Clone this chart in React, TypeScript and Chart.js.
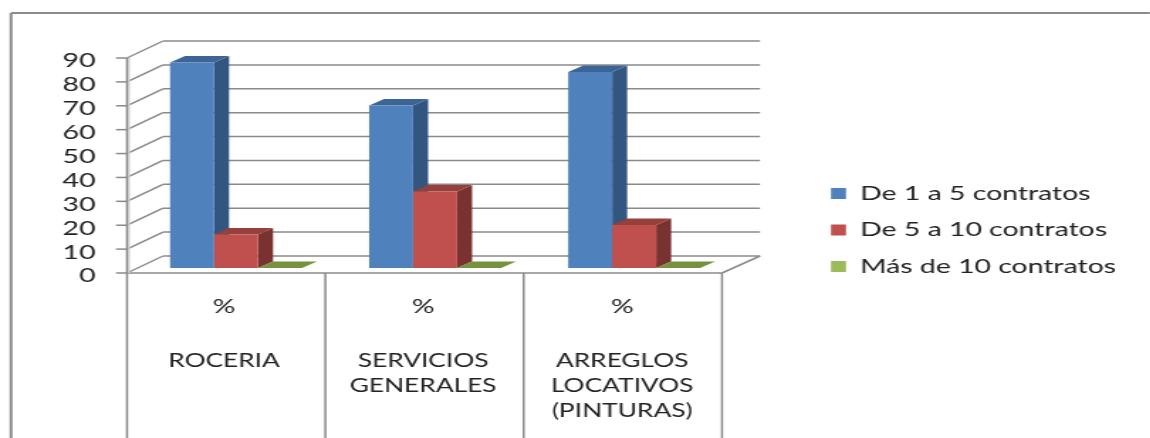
import { useEffect, useRef } from "react";
import { Chart, registerables } from "chart.js";

Chart.register(...registerables);

const categories = ["ROCERIA", "SERVICIOS GENERALES", "ARREGLOS LOCATIVOS (PINTURAS)"];
const unitLabels = ["%", "%", "%"];
const groupLines = [["ROCERIA"], ["SERVICIOS", "GENERALES"], ["ARREGLOS", "LOCATIVOS", "(PINTURAS)"]];
const seriesNames = ["De 1 a 5 contratos", "De 5 a 10 contratos", "Más de 10 contratos"];
const upTo5 = [86, 68, 82];
const upTo10 = [14, 32, 18];
const over10 = [0, 0, 0];
const faceColors = ["#4f81bd", "#c0504d", "#9bbb59"];
const topColors = ["#3d6496", "#95403d", "#76923c"];
const sideColors = ["#335680", "#7a3230", "#627a32"];

// The drawing is laid out on a narrower canvas and widened with CSS.
const WIDEN = 1.42;
const W = 1150;
const H = 438;
const sx = (px: number) => px / WIDEN;
const GRID = "#8a8a8a";
const LEGEND_GAP = 16.5;

const box3d = {
  id: "box3d",
  beforeDatasetsDraw(chart: any) {
    const { ctx } = chart;
    const yS = chart.scales.y;
    const line = (x1: number, y1: number, x2: number, y2: number, c = GRID, w = 1.5) => {
      ctx.strokeStyle = c;
      ctx.lineWidth = w;
      ctx.beginPath();
      ctx.moveTo(x1, y1);
      ctx.lineTo(x2, y2);
      ctx.stroke();
    };
    ctx.save();
    // outer frame, open on the right and at the bottom
    line(sx(W), 13, sx(11), 13, GRID, 2);
    line(sx(11), 13, sx(11), H, GRID, 2);

    const frontL = sx(127);
    const backL = sx(163);
    const frontR = sx(722);
    const backR = sx(760);
    const front = (v: number) => yS.getPixelForValue(v) + 5;
    const back = (v: number) => yS.getPixelForValue(v) - 12;

    // back wall, side wall and the tick marks on the value axis
    for (const t of yS.ticks) {
      line(backL, back(t.value), backR, back(t.value));
      line(frontL, front(t.value), backL, back(t.value));
      line(sx(116), front(t.value), frontL, front(t.value));
    }
    // floor
    line(frontL, front(0), frontR, front(0));
    line(frontR, front(0), backR, back(0));
    // value axis
    line(sx(129), front(90), sx(129), front(0), "#d9d9d9", 1.5);
    line(frontL, front(90), frontL, front(0));
    // category dividers running down through the label rows
    const n = categories.length;
    for (let i = 0; i <= n; i++) {
      const x = frontL + ((frontR - frontL) * i) / n;
      line(x, front(0), x, H);
    }

    // depth faces of each column
    const dx = sx(15);
    const dy = 6.5;
    chart.data.datasets.forEach((_: any, d: number) => {
      for (const bar of chart.getDatasetMeta(d).data) {
        const { x, y, width, base } = bar.getProps(["x", "y", "width", "base"], true);
        const l = x - width / 2;
        const r = x + width / 2;
        ctx.fillStyle = sideColors[d];
        ctx.beginPath();
        ctx.moveTo(r, y);
        ctx.lineTo(r + dx, y - dy);
        ctx.lineTo(r + dx, base - dy);
        ctx.lineTo(r, base);
        ctx.closePath();
        ctx.fill();
        ctx.fillStyle = topColors[d];
        ctx.beginPath();
        ctx.moveTo(l, y);
        ctx.lineTo(l + dx, y - dy);
        ctx.lineTo(r + dx, y - dy);
        ctx.lineTo(r, y);
        ctx.closePath();
        ctx.fill();
      }
    });
    ctx.restore();
  },
};

const legendPlacement = {
  id: "legendPlacement",
  afterLayout(chart: any) {
    chart.legend.left = sx(831) - LEGEND_GAP;
    chart.legend.right = chart.width;
    chart.legend.top = 167;
    chart.legend.bottom = 330;
  },
};

const textFont = "Lato";

export default function App() {
  const ref = useRef<HTMLCanvasElement>(null);
  useEffect(() => {
    const chart = new Chart(ref.current!, {
      type: "bar",
      data: {
        labels: unitLabels,
        datasets: [upTo5, upTo10, over10].map((data, i) => ({
          label: seriesNames[i],
          data,
          backgroundColor: faceColors[i],
          categoryPercentage: 0.663,
          barPercentage: 1,
        })),
      },
      options: {
        responsive: false,
        animation: false,
        layout: { padding: { left: 0, right: sx(W - 733.5), top: 53, bottom: 0 } },
        plugins: {
          title: { display: false },
          tooltip: { enabled: false },
          legend: {
            position: "chartArea" as any,
            align: "start",
            labels: {
              boxWidth: sx(15),
              boxHeight: 11,
              padding: LEGEND_GAP,
              color: "#222",
              font: { family: textFont, size: 20 },
            },
          },
        },
        scales: {
          y: {
            min: 0,
            max: 90,
            grid: { display: false, drawTicks: false },
            border: { display: false },
            afterFit: (s: any) => { s.width = sx(136.5); },
            ticks: {
              stepSize: 10,
              autoSkip: false,
              labelOffset: 8,
              padding: sx(41),
              color: "#222",
              font: { family: textFont, size: 20 },
            },
          },
          x: {
            weight: 0,
            offset: true,
            grid: { display: false, drawTicks: false },
            border: { display: false },
            afterFit: (s: any) => { s.height = 78; },
            ticks: {
              autoSkip: false,
              maxRotation: 0,
              labelOffset: sx(-12),
              padding: 27,
              color: "#222",
              font: { family: textFont, size: 20 },
            },
          },
          xGroup: {
            type: "category",
            axis: "x",
            position: "bottom",
            weight: 1,
            offset: true,
            labels: groupLines as any,
            grid: { display: false, drawTicks: false },
            border: { display: false },
            afterFit: (s: any) => { s.height = 92; },
            ticks: {
              autoSkip: false,
              maxRotation: 0,
              labelOffset: sx(-12),
              padding: 3,
              color: "#222",
              font: { family: textFont, size: 18.5, lineHeight: 25 / 18.5 },
            },
          } as any,
        },
      },
      plugins: [box3d, legendPlacement],
    });
    return () => chart.destroy();
  }, []);

  return (
    <div style={{ position: "absolute", left: 0, top: 0, width: W, height: H, overflow: "hidden", background: "#fff" }}>
      <canvas
        ref={ref}
        aria-label={categories.join(", ")}
        width={Math.round(sx(W))}
        height={H}
        style={{ display: "block", transform: `scaleX(${WIDEN})`, transformOrigin: "0 0" }}
      />
    </div>
  );
}
